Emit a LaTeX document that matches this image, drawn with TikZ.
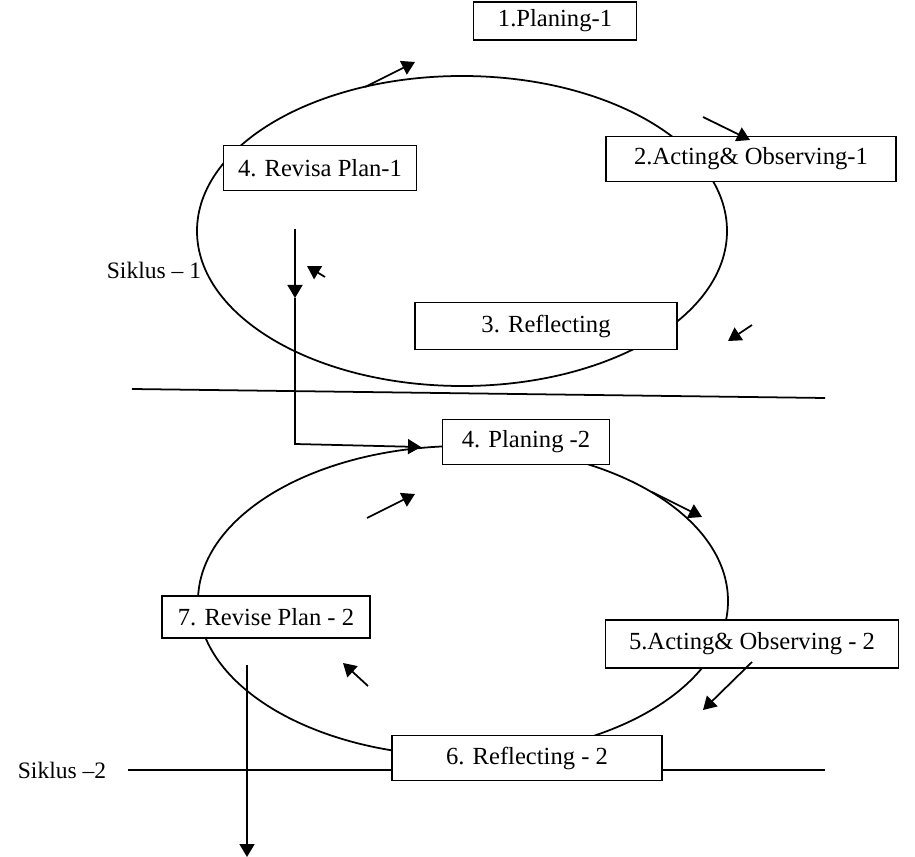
\documentclass[tikz,border=0pt]{standalone}
\usepackage{fontspec}
\setmainfont{Liberation Serif}
\usetikzlibrary{
  arrows.meta,
  positioning
}

\begin{document}
\begin{tikzpicture}[x=0.02cm,y=-0.02cm,line width=1pt,
                    font=\fontsize{14}{16}\selectfont,
                    box/.style={draw,fill=white,line width=0.8pt,inner sep=0pt},
                    arr/.style={-{Triangle[length=2.6mm,width=3mm]}}]
                  \useasboundingbox (0,0) rectangle (915,857);
                  % cycles
                  \draw (462,231) ellipse [x radius=265, y radius=155];
                  \draw (463,601) ellipse [x radius=265, y radius=155];
                  \draw (132,389) -- (825,398);
                  \draw (128,770) -- (825,770);

                  \node[box,minimum width=163*0.02cm,minimum height=38*0.02cm] (P1) at (555,21) {1.Planing-1};
                  \node[box,minimum width=290*0.02cm,minimum height=45*0.02cm] (A1) at (751,159) {2.Acting\& Observing-1};
                  \node[box,minimum width=193*0.02cm,minimum height=45*0.02cm] (V1) at (320,168) {4. Revisa Plan-1};
                  \node[box,minimum width=262*0.02cm,minimum height=47*0.02cm] (R1) at (546,326) {3. Reflecting};
                  \node[box,minimum width=167*0.02cm,minimum height=45*0.02cm] (P2) at (526,442) {4. Planing -2};
                  \node[box,minimum width=293*0.02cm,minimum height=48*0.02cm] (A2) at (752,644) {5.Acting\& Observing - 2};
                  \node[box,minimum width=208*0.02cm,minimum height=42*0.02cm] (V2) at (266,617) {7. Revise Plan - 2};
                  \node[box,minimum width=270*0.02cm,minimum height=45*0.02cm] (R2) at (527,758) {6. Reflecting - 2};

                  \node[anchor=west,inner sep=0pt,font=\fontsize{13.4}{16}\selectfont] (S1) at (106,270) {Siklus -- 1};
                  \node[anchor=west,inner sep=0pt,font=\fontsize{13.4}{16}\selectfont] (S2) at (17,770) {Siklus --2};

                  % from cycle 1 to cycle 2
                  \coordinate (t1) at (295,229);
                  \coordinate (m1) at (295,298);
                  \coordinate (k1) at (295,444);
                  \coordinate (e1) at (421,447);
                  \draw[arr] (t1) -- (m1);
                  \draw[arr] (m1) -- (k1) -- (e1);
                  \coordinate (t2) at (247,665);
                  \coordinate (e2) at (247,857);
                  \draw[arr] (t2) -- (e2);

                  % direction of the cycles
                  \draw[arr] (365,87) -- (415,62);
                  \draw[arr] (703,117) -- (750,140);
                  \draw[arr] (325,277) -- (307,266);
                  \draw[arr] (752,325) -- (728,341);
                  \draw[arr] (367,518) -- (415,494);
                  \draw[arr] (652,492) -- (702,517);
                  \draw[arr] (752,662) -- (703,710);
                  \draw[arr] (368,686) -- (343,663);
                \end{tikzpicture}
\end{document}
